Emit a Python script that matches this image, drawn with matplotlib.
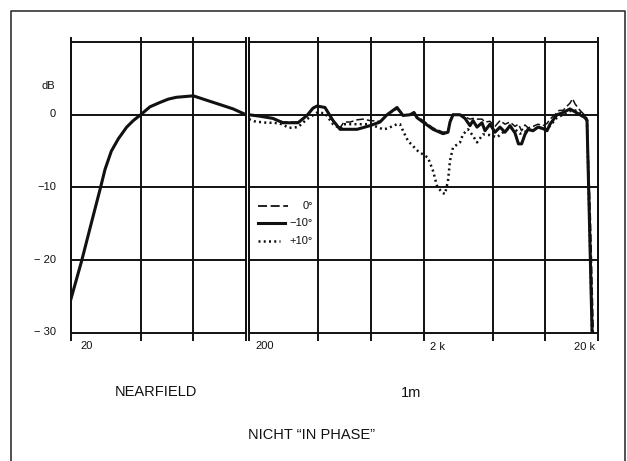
"""
plot.py
Frequency response chart: nearfield (20-200 Hz) + 1 m response at 0 / -10 / +10 degrees
"""
import matplotlib
matplotlib.use('Agg')
import matplotlib.pyplot as plt
import matplotlib.transforms as mtransforms
from matplotlib.lines import Line2D
from matplotlib.ticker import NullLocator, NullFormatter

plt.rcParams['font.family'] = ['Liberation Sans', 'DejaVu Sans']

W, H = 627, 461
INK = '#111111'

# ── Data ──────────────────────────────────────────────────────────────────────
# Nearfield measurement, 20-200 Hz
nf_freq = [20, 23, 26, 29.5, 31.3, 34, 37.3, 41.6, 45.4, 50, 56.6, 64.6, 72,
           80, 100, 119, 142, 169, 200]
nf_db   = [-25.3, -20.1, -15.1, -10.0, -7.5, -5.0, -3.3, -1.7, -0.8, 0.0, 1.1,
           1.7, 2.15, 2.4, 2.6, 2.0, 1.4, 0.8, 0.0]

# 1 m, 0 deg (dashed)
d0_freq = [200, 231, 274, 313, 382, 430, 465, 491, 545, 606, 665, 700, 760,
           832, 900, 987, 1127, 1236, 1410, 1526, 1673, 1764, 1835, 2013, 2267,
           2587, 2762, 2838, 2952, 3238, 3458, 3694, 3843, 4052, 4328, 4502,
           4809, 5138, 5488, 5862, 6262, 6688, 7000, 7300, 7632, 7942, 8483,
           9062, 9678, 10204, 10615, 11200, 12000, 12604, 13300, 13822, 14300,
           14764, 15768, 16846, 17300, 18100, 18800]
d0_db   = [0.0, -0.2, -0.5, -1.0, -1.0, -0.1, 0.9, 1.2, 1.0, -0.8, -1.8, -1.0,
           -1.0, -0.7, -0.6, -0.8, -0.9, 0.0, 0.8, 0.0, 0.0, 0.4, -0.2, -0.9,
           -1.8, -2.4, -2.3, -0.8, 0.1, 0.0, -0.3, -0.6, -0.5, -0.6, -0.6, -1.0,
           -0.9, -1.6, -0.8, -1.3, -1.0, -1.6, -1.3, -2.2, -1.4, -1.8, -1.6,
           -1.3, -1.5, -1.2, -0.6, -0.1, 0.6, 0.6, 1.2, 1.6, 2.2, 1.5, 0.6,
           -0.1, -0.5, -14.3, -30.0]

# 1 m, -10 deg (solid)
m10_freq = [200, 231, 274, 313, 382, 430, 465, 491, 545, 606, 665, 832, 987,
            1127, 1236, 1410, 1526, 1673, 1764, 1835, 2013, 2267, 2587, 2762,
            2838, 2952, 3238, 3458, 3694, 3843, 4052, 4328, 4502, 4809, 5138,
            5488, 5862, 6262, 6688, 7000, 7300, 7632, 7942, 8483, 9062, 9678,
            10204, 10615, 11641, 12604, 13822, 14764, 15768, 16846, 17300,
            17850, 18500]
m10_db   = [0.0, -0.2, -0.5, -1.1, -1.1, -0.1, 0.9, 1.2, 1.0, -0.8, -2.0, -2.0,
            -1.5, -1.0, 0.0, 1.0, -0.1, 0.0, 0.3, -0.4, -1.1, -2.0, -2.6, -2.4,
            -1.0, 0.0, 0.0, -0.5, -1.5, -0.8, -1.7, -1.1, -2.2, -1.3, -2.4,
            -1.7, -2.4, -1.5, -2.5, -4.0, -4.0, -2.7, -2.0, -2.2, -1.7, -1.9,
            -2.2, -1.3, 0.0, 0.3, 0.8, 0.4, 0.0, -0.4, -0.8, -14.3, -30.0]

# 1 m, +10 deg (dotted)
p10_freq = [200, 215, 231, 253, 274, 300, 313, 340, 382, 430, 491, 545, 606,
            665, 700, 760, 832, 900, 987, 1172, 1236, 1410, 1466, 1526, 1630,
            1742, 1860, 2122, 2267, 2391, 2553, 2655, 2762, 2838, 2952, 3238,
            3366, 3598, 3843, 4052, 4385, 4809, 5275, 5862, 6262, 6688, 7146,
            7942, 8483, 9304, 10204, 11641, 12604, 13822, 14764, 15768, 16846,
            17300, 17850, 18500]
p10_db   = [-0.6, -0.9, -1.0, -1.1, -1.1, -1.2, -1.4, -1.8, -1.7, -0.6, 0.3,
            0.2, -1.3, -1.9, -1.3, -1.3, -1.3, -1.3, -1.3, -2.0, -1.9, -1.3,
            -1.3, -2.2, -3.6, -4.3, -5.0, -5.9, -7.7, -9.8, -10.7, -10.9, -9.1,
            -6.3, -4.5, -3.8, -2.7, -2.0, -2.9, -3.8, -2.7, -2.8, -3.1, -2.2,
            -1.8, -2.0, -2.6, -2.2, -2.0, -1.8, -2.0, -0.4, 0.0, 0.5, 0.6, 0.3,
            -0.2, -0.6, -14.3, -30.0]

# Axis decorations
y_grid   = [-20, -10, 0]
y_labels = {10: '', 0: '0', -10: '\u221210', -20: '\u2212 20', -30: '\u2212 30'}
left_grid  = [20, 50, 100, 200]
right_grid = [200, 500, 1000, 2000, 5000, 10000, 20000]

def px(x):
    return x / W

def py(y):
    return 1 - y / H

# ── Figure ────────────────────────────────────────────────────────────────────
fig = plt.figure(figsize=(W / 100, H / 100), dpi=100)
fig.patch.set_facecolor('white')

axL = fig.add_axes([px(71), py(333), px(246) - px(71), py(42) - py(333)])
axR = fig.add_axes([px(249), py(333), px(598) - px(249), py(42) - py(333)])

for ax, lim, grid in [(axL, (20, 200), left_grid), (axR, (200, 20000), right_grid)]:
    ax.set_xscale('log')
    ax.set_xlim(*lim)
    ax.set_ylim(-30, 10)
    ax.xaxis.set_major_locator(NullLocator())
    ax.xaxis.set_minor_locator(NullLocator())
    ax.xaxis.set_major_formatter(NullFormatter())
    ax.xaxis.set_minor_formatter(NullFormatter())
    ax.set_yticks([])
    for sp in ax.spines.values():
        sp.set_color(INK)
        sp.set_linewidth(1.4)
    for yv in y_grid:
        ax.axhline(yv, color=INK, lw=1.4, zorder=1)
    # vertical lines run a little past the frame (tick stubs)
    trans = mtransforms.blended_transform_factory(ax.transData, ax.transAxes)
    for f in grid:
        ax.plot([f, f], [-0.026, 1.018], transform=trans, color=INK, lw=1.4,
                clip_on=False, zorder=1, solid_capstyle='butt')

# ── Curves ────────────────────────────────────────────────────────────────────
axL.plot(nf_freq, nf_db, color=INK, lw=2.2, solid_joinstyle='round', zorder=3)

axR.plot(d0_freq, d0_db, color=INK, lw=1.1, linestyle=(0, (5, 2)), zorder=3)
axR.plot(m10_freq, m10_db, color=INK, lw=2.2, solid_joinstyle='round', zorder=4)
axR.plot(p10_freq, p10_db, color=INK, lw=1.8, linestyle=(0, (0.8, 1.3)), zorder=3)

# ── Tick labels ───────────────────────────────────────────────────────────────
fs_tick = 8
for yv, lab in y_labels.items():
    if lab:
        fig.text(px(56), py(114 - yv * 7.28), lab, ha='right', va='center',
                 fontsize=fs_tick, color=INK)
fig.text(px(48.5), py(86), 'dB', ha='center', va='center', fontsize=fs_tick, color=INK)

fig.text(px(80), py(346), '20', ha='left', va='center', fontsize=fs_tick, color=INK)
fig.text(px(255), py(346), '200', ha='left', va='center', fontsize=fs_tick, color=INK)
fig.text(px(430), py(347), '2 k', ha='left', va='center', fontsize=fs_tick, color=INK)
fig.text(px(595), py(347), '20 k', ha='right', va='center', fontsize=fs_tick, color=INK)

# ── Legend (drawn by hand, labels right aligned) ──────────────────────────────
leg = [('0\u00b0', dict(lw=1.3, linestyle=(0, (5, 2))), 288, 206),
       ('\u221210\u00b0', dict(lw=2.2), 285, 223),
       ('+10\u00b0', dict(lw=1.8, linestyle=(0, (0.8, 1.3))), 280, 241)]
for lab, style, x1, yy in leg:
    fig.add_artist(Line2D([px(258), px(x1)], [py(yy), py(yy)], color=INK,
                          transform=fig.transFigure, **style))
    fig.text(px(313), py(yy), lab, ha='right', va='center', fontsize=fs_tick, color=INK)

# ── Captions ──────────────────────────────────────────────────────────────────
fig.text(px(156), py(392), 'NEARFIELD', ha='center', va='center', fontsize=10.5, color=INK)
fig.text(px(411), py(393), '1m', ha='center', va='center', fontsize=10.5, color=INK)
fig.text(px(312), py(435), 'NICHT \u201cIN PHASE\u201d', ha='center', va='center',
         fontsize=10.5, color=INK)

# outer frame (open at the bottom, as on the scanned page)
fig.add_artist(Line2D([px(11), px(11), px(625), px(625)],
                      [py(470), py(11), py(11), py(470)],
                      color='#333333', lw=1.2, transform=fig.transFigure))

plt.savefig('out.png', dpi=100, facecolor='white')
plt.close()
